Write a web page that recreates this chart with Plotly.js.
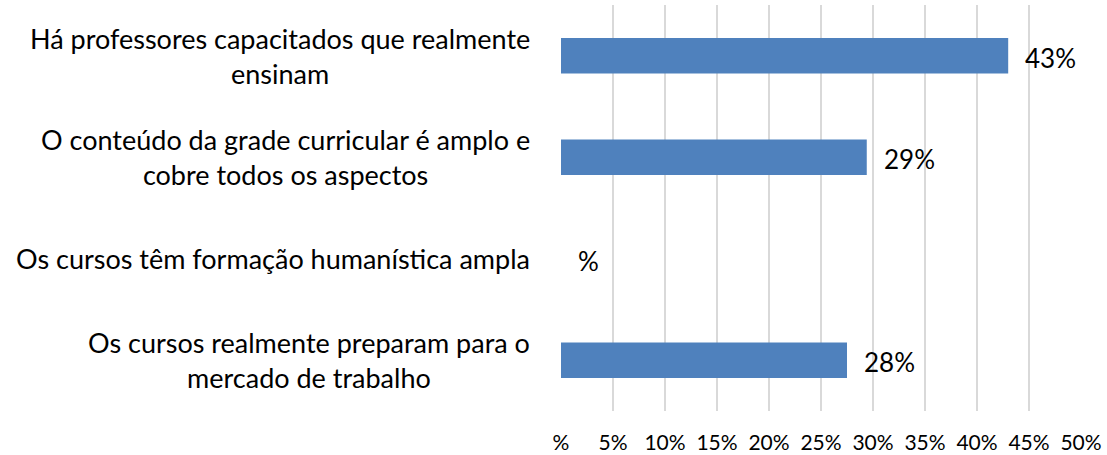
<!DOCTYPE html>
<html>
<head>
<meta charset="utf-8">
<script src="https://cdn.plot.ly/plotly-3.0.1.min.js"></script>
<style>html,body{margin:0;padding:0;background:#fff;}#chart{width:1107px;height:455px;}</style>
</head>
<body>
<div id="chart"></div>
<script>
const categories = [
  "Há professores capacitados que realmente<br>ensinam",
  "O conteúdo da grade curricular é amplo e<br>cobre todos os aspectos",
  "Os cursos têm formação humanística ampla",
  "Os cursos realmente preparam para o<br>mercado de trabalho"
];
const values = [43.0, 29.4, 0, 27.5];
const valueLabels = ["43%", "29%", "%", "28%"];
const tickValues = [0, 5, 10, 15, 20, 25, 30, 35, 40, 45, 50];
const tickLabels = ["%", "5%", "10%", "15%", "20%", "25%", "30%", "35%", "40%", "45%", "50%"];

const fontFamily = "Lato, 'Open Sans', sans-serif";
const ids = categories.map((c, i) => "c" + i);

const trace = {
  type: "bar",
  orientation: "h",
  x: values,
  y: ids,
  marker: {color: "#4f81bd", line: {width: 0}},
  hoverinfo: "none"
};

const annotations = [];
categories.forEach((c, i) => {
  annotations.push({
    xref: "paper", yref: "y", x: 0, y: ids[i],
    xanchor: "right", yanchor: "middle", xshift: -29,
    text: c, align: "center", showarrow: false,
    font: {family: fontFamily, size: 27, color: "#000"}
  });
  annotations.push({
    xref: "x", yref: "y", x: values[i], y: ids[i],
    xanchor: "left", yanchor: "middle", xshift: 15, yshift: -2,
    text: valueLabels[i], showarrow: false,
    font: {family: fontFamily, size: 26, color: "#000"}
  });
});

const layout = {
  width: 1107, height: 455,
  margin: {l: 561, r: 26, t: 5, b: 44},
  paper_bgcolor: "#fff", plot_bgcolor: "#fff",
  showlegend: false,
  bargap: 0.65,
  xaxis: {
    range: [0, 50], tickvals: tickValues, ticktext: tickLabels,
    showgrid: true, gridcolor: "#d9d9d9", gridwidth: 1.5,
    zeroline: false, showline: false, ticks: "",
    ticklabelstandoff: 17,
    tickfont: {family: fontFamily, size: 21, color: "#000"},
    fixedrange: true
  },
  yaxis: {
    categoryorder: "array", categoryarray: ids,
    autorange: "reversed", showticklabels: false,
    showgrid: false, zeroline: false, showline: false, ticks: "",
    fixedrange: true
  },
  annotations: annotations
};

Plotly.newPlot("chart", [trace], layout, {displayModeBar: false, staticPlot: true});
</script>
</body>
</html>
